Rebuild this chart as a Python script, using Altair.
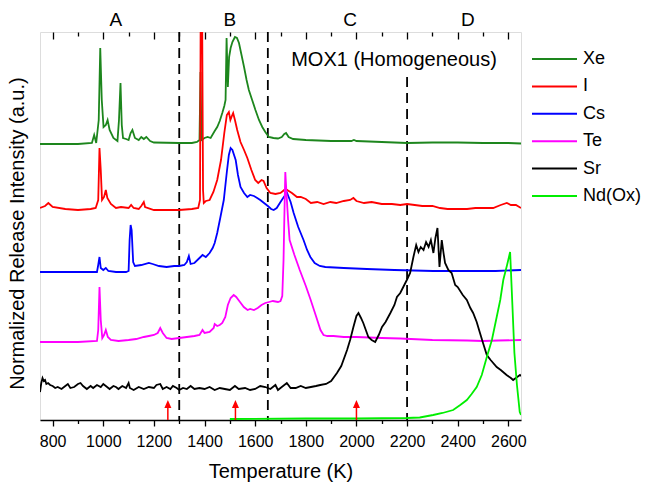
import altair as alt
import pandas as pd

FONT = "Liberation Sans, Arial, sans-serif"

series_names = ["Xe", "I", "Cs", "Te", "Sr", "Nd(Ox)"]
series_colors = ["#1d861d", "#ff0000", "#0000ff", "#ff00ff", "#000000", "#00ee00"]

# Temperature (K) and release intensity (a.u., stacked with offsets as plotted)
xe_T = [750, 900, 955, 964, 972, 982, 988, 994, 1001, 1010, 1017, 1025, 1040, 1056, 1062, 1068, 1073, 1078,
        1090, 1100, 1108, 1115, 1125, 1140, 1150, 1160, 1170, 1185, 1200, 1300, 1350, 1370, 1380, 1384, 1388,
        1400, 1412, 1424, 1440, 1450, 1460, 1470, 1478, 1483, 1487, 1492, 1497, 1503, 1510, 1520, 1528, 1536,
        1546, 1556, 1566, 1575, 1588, 1601, 1615, 1628, 1640, 1654, 1672, 1690, 1705, 1715, 1722, 1732, 1750,
        1800, 1900, 1980, 1990, 2000, 2100, 2200, 2300, 2400, 2500, 2600, 2650]
xe_I = [276, 276, 277, 285, 277, 300, 372, 320, 293, 295, 300, 290, 282, 279, 300, 337, 295, 282,
        281, 280, 287, 290, 282, 280, 283, 281, 283, 279, 277.5, 277, 277, 278, 280, 348, 280,
        282, 283, 282, 289, 293, 299, 307, 314, 320, 382, 333, 363, 372, 378, 383, 382, 377,
        365, 353, 340, 330, 320, 310, 300, 293, 288, 283, 282, 281.5, 283, 286, 287, 283, 281,
        280, 279, 279, 280, 279, 278, 277, 277.5, 277.5, 277, 277, 276.5]

i_T = [750, 770, 783, 800, 850, 900, 950, 970, 980, 985, 990, 995, 1003, 1010, 1016, 1030, 1050, 1070,
       1100, 1110, 1120, 1140, 1150, 1160, 1165, 1200, 1250, 1300, 1350, 1375, 1382, 1385, 1390, 1394, 1397,
       1405, 1420, 1435, 1450, 1465, 1478, 1488, 1496, 1502, 1508, 1513, 1520, 1529, 1542, 1556, 1569, 1585,
       1600, 1612, 1625, 1633, 1645, 1660, 1680, 1700, 1715, 1726, 1745, 1765, 1780, 1800, 1820, 1845, 1870,
       1897, 1920, 1950, 1975, 1988, 2000, 2030, 2060, 2100, 2140, 2173, 2200, 2230, 2260, 2300, 2330, 2360,
       2400, 2437, 2470, 2500, 2540, 2570, 2594, 2610, 2630, 2650]
i_I = [212, 214, 217, 213, 211, 210, 211, 212, 220, 272, 250, 220, 223, 230, 222, 216, 212, 213,
       212, 215, 212, 211, 214, 218, 213, 210, 210, 210, 211, 212, 220, 430, 430, 230, 217,
       219, 220, 228, 240, 260, 287, 305, 308, 300, 304, 307, 300, 290, 278, 270, 262, 250,
       240, 237, 240, 239, 232, 227, 226, 227, 230, 230, 227, 223, 223, 221, 217, 218, 216,
       218, 217, 219, 220, 222, 219, 217, 218, 216, 216, 215, 216, 215, 214, 214, 212, 211,
       211, 211, 212, 212, 212, 215, 217, 215, 215, 212]

cs_T = [750, 900, 975, 980, 985, 990, 1000, 1010, 1020, 1050, 1090, 1100, 1104, 1108, 1112, 1118, 1125, 1150,
        1180, 1195, 1220, 1250, 1280, 1300, 1320, 1330, 1338, 1345, 1360, 1380, 1392, 1405, 1420, 1432, 1440,
        1450, 1462, 1476, 1488, 1496, 1503, 1510, 1523, 1532, 1542, 1556, 1569, 1580, 1595, 1608, 1620, 1635,
        1650, 1663, 1673, 1685, 1700, 1713, 1726, 1740, 1752, 1770, 1791, 1805, 1818, 1835, 1855, 1877, 1950,
        2041, 2150, 2303, 2450, 2550, 2650]
cs_I = [148, 148, 148, 155, 163, 152, 150, 152, 149, 148, 148, 149, 180, 195, 190, 158, 154, 155,
        157, 156, 154, 153, 154, 154, 155, 158, 164, 156, 157, 162, 165, 163, 167, 172, 177,
        187, 202, 220, 248, 265, 272, 270, 260, 245, 233, 227, 223, 225, 224, 222, 220, 217,
        214, 211, 210, 212, 218, 223, 227, 218, 207, 193, 180, 170, 163, 157, 154, 153, 152,
        151, 150, 149, 149, 149, 150]

te_T = [750, 800, 900, 975, 980, 985, 990, 996, 1003, 1010, 1018, 1030, 1060, 1100, 1130, 1160, 1180, 1200,
        1215, 1225, 1235, 1250, 1270, 1300, 1330, 1360, 1380, 1392, 1400, 1420, 1436, 1440, 1450, 1460, 1470,
        1482, 1492, 1503, 1515, 1525, 1540, 1555, 1570, 1580, 1595, 1610, 1625, 1640, 1655, 1670, 1690, 1700,
        1707, 1712, 1715, 1719, 1724, 1730, 1736, 1755, 1776, 1800, 1818, 1840, 1858, 1870, 1885, 1909, 1950,
        2000, 2100, 2173, 2300, 2437, 2500, 2560, 2650]
te_I = [78, 78, 78, 79, 90, 133, 100, 82, 85, 90, 83, 80, 79, 80, 81, 83, 84, 85,
        87, 92, 87, 82, 81, 82, 83, 84, 85, 90, 87, 88, 92, 96, 94, 95, 97,
        103, 115, 122, 125, 123, 118, 113, 110, 111, 110, 112, 115, 117, 118, 119, 118, 119,
        124, 160, 200, 248, 225, 200, 180, 165, 150, 134, 121, 104, 90, 85, 84, 84, 83,
        83, 82, 81.5, 80, 79.5, 79, 79.5, 80]

sr_T = [750, 755, 760, 765, 770, 775, 782, 790, 800, 810, 820, 835, 850, 860, 870, 885, 900, 910, 920, 935,
        950, 960, 975, 990, 1000, 1010, 1025, 1040, 1050, 1060, 1075, 1090, 1100, 1105, 1120, 1140, 1160,
        1180, 1200, 1210, 1225, 1235, 1250, 1265, 1275, 1290, 1300, 1315, 1330, 1345, 1360, 1380, 1400, 1420,
        1440, 1460, 1480, 1500, 1520, 1535, 1560, 1580, 1600, 1620, 1640, 1660, 1680, 1690, 1700, 1725, 1740,
        1760, 1780, 1800, 1820, 1840, 1857, 1880, 1900, 1923, 1940, 1963, 1975, 1988, 2000, 2008, 2018, 2027,
        2037, 2047, 2060, 2074, 2088, 2101, 2115, 2134, 2150, 2160, 2173, 2185, 2199, 2212, 2225, 2236, 2245,
        2254, 2265, 2275, 2285, 2294, 2304, 2312, 2320, 2328, 2337, 2344, 2350, 2363, 2376, 2390, 2400, 2420,
        2436, 2450, 2461, 2475, 2488, 2500, 2515, 2530, 2554, 2570, 2593, 2610, 2619, 2635, 2646, 2650]
sr_I = [28, 37, 42, 39, 40, 36, 37, 35, 34, 32, 33, 31, 34, 36, 32, 33, 36, 37, 34, 31,
        34, 32, 35, 33, 36, 34, 31, 34, 33, 31, 34, 32, 37, 32, 30, 33, 31,
        33, 32, 35, 36, 31, 33, 31, 34, 32, 30, 32, 31, 34, 31, 32, 31, 33,
        30, 32, 31, 30, 34, 31, 32, 30, 31, 34, 33, 31, 35, 30, 32, 37, 32,
        32, 34, 32, 33, 34, 35, 36, 39, 47, 54, 70, 80, 93, 104, 107, 102, 97,
        90, 83, 80, 78, 85, 93, 98, 107, 115, 123, 127, 133, 140, 147, 163, 175, 168,
        173, 170, 178, 173, 180, 167, 182, 192, 153, 180, 167, 157, 150, 147, 135, 133, 125,
        120, 112, 107, 98, 87, 77, 65, 60, 53, 50, 45, 42, 40, 43, 45, 44]

nd_T = [1500, 1800, 2000, 2200, 2250, 2303, 2340, 2382, 2410, 2436, 2455, 2475, 2495, 2515, 2535, 2554,
        2568, 2580, 2595, 2607, 2616, 2624, 2634, 2645, 2650]
nd_I = [1, 1.5, 1.5, 2, 2.5, 5, 7, 10, 15, 20, 26, 33, 45, 63, 80, 103,
        120, 140, 155, 168, 115, 67, 35, 8, 5]

major_ticks = [800, 1000, 1200, 1400, 1600, 1800, 2000, 2200, 2400, 2600]
minor_ticks = [900, 1100, 1300, 1500, 1700, 1900, 2100, 2300, 2500]

region_labels = ["A", "B", "C", "D"]
region_T = [1050, 1500, 1975, 2440]

divider_T = [1300, 1650, 2200]
divider_top = [388, 388, 343]

arrow_T = [1255, 1522, 2000]

rows = []
for name, Ts, Is in zip(series_names, [xe_T, i_T, cs_T, te_T, sr_T, nd_T],
                        [xe_I, i_I, cs_I, te_I, sr_I, nd_I]):
    for t, v in zip(Ts, Is):
        rows.append({"series": name, "T": t, "I": v})
df = pd.DataFrame(rows)

xscale = alt.Scale(domain=[750, 2650], nice=False, zero=False)
yscale = alt.Scale(domain=[0, 388], nice=False, zero=False)

y_axis = alt.Axis(
    title="Normalized Release Intensity (a.u.)", ticks=False, labels=False, domain=False,
    grid=False, titleFont=FONT, titleFontSize=20, titleFontWeight="normal", titleColor="black",
    titleAngle=-90, titleX=-23, titleY=201, titleAlign="center", titleBaseline="middle")

lines = alt.Chart(df).mark_line(strokeWidth=1.8, clip=True).encode(
    x=alt.X("T:Q", scale=xscale, axis=alt.Axis(
        values=major_ticks, format="d", orient="bottom", tickSize=6, tickWidth=1.3, tickColor="black",
        domain=True, domainColor="black", domainWidth=1.3, labelFlush=False,
        labelFontSize=16, labelFont=FONT, labelColor="black", labelPadding=7,
        title="Temperature (K)", titleFont=FONT, titleFontSize=20, titleFontWeight="normal",
        titleColor="black", titleBaseline="alphabetic", titleY=57, grid=False)),
    y=alt.Y("I:Q", scale=yscale, axis=y_axis),
    color=alt.Color("series:N", scale=alt.Scale(domain=series_names, range=series_colors),
                    legend=alt.Legend(title=None, orient="none", legendX=491, legendY=16,
                                      symbolType="stroke", symbolSize=2025, symbolStrokeWidth=2,
                                      labelFont=FONT, labelFontSize=18, labelColor="black",
                                      labelOffset=5, clipHeight=22, rowPadding=5.4, padding=0,
                                      symbolOffset=0)),
)

minor_df = pd.DataFrame({"T": minor_ticks})
major_df = pd.DataFrame({"T": major_ticks})

minor_bottom = alt.Chart(minor_df).mark_point(opacity=0).encode(
    x=alt.X("T:Q", scale=xscale, axis=alt.Axis(
        values=minor_ticks, orient="bottom", tickSize=3.5, tickWidth=1.3, tickColor="black",
        labels=False, domain=False, title=None, grid=False)))
major_top = alt.Chart(major_df).mark_point(opacity=0).encode(
    x=alt.X("T:Q", scale=xscale, axis=alt.Axis(
        values=major_ticks, orient="top", offset=-7, tickSize=7, tickWidth=1.3, tickColor="black",
        labels=False, domain=False, title=None, grid=False)))
minor_top = alt.Chart(minor_df).mark_point(opacity=0).encode(
    x=alt.X("T:Q", scale=xscale, axis=alt.Axis(
        values=minor_ticks, orient="top", offset=-4, tickSize=4, tickWidth=1.3, tickColor="black",
        labels=False, domain=False, title=None, grid=False)))

div_df = pd.DataFrame({"T": divider_T, "top": divider_top, "bottom": [0, 0, 0]})
dividers = alt.Chart(div_df).mark_rule(color="black", strokeWidth=1.8, strokeDash=[10, 6]).encode(
    x=alt.X("T:Q", scale=xscale, axis=None),
    y=alt.Y("top:Q", scale=yscale, axis=y_axis),
    y2="bottom:Q")

reg_df = pd.DataFrame({"T": region_T, "label": region_labels})
regions = alt.Chart(reg_df).mark_text(font=FONT, fontSize=19, color="black", baseline="middle",
                                       align="center").encode(
    x=alt.X("T:Q", scale=xscale, axis=None), y=alt.value(-12), text="label:N")

title_df = pd.DataFrame({"label": ["MOX1 (Homogeneous)"]})
mox = alt.Chart(title_df).mark_text(font=FONT, fontSize=20, color="black", baseline="middle",
                                     align="center").encode(
    x=alt.value(354), y=alt.value(28), text="label:N")

arr_df = pd.DataFrame({"T": arrow_T})
arrow_shaft = alt.Chart(arr_df).mark_rule(color="#ff0000", strokeWidth=1.5).encode(
    x=alt.X("T:Q", scale=xscale, axis=None), y=alt.value(388), y2=alt.value(375))
arrow_head = alt.Chart(arr_df).mark_point(shape="M-3.5,4L3.5,4L0,-4Z", size=4, filled=True,
                                          color="#ff0000", opacity=1).encode(
    x=alt.X("T:Q", scale=xscale, axis=None), y=alt.value(372))

chart = alt.layer(
    dividers, lines, minor_bottom, major_top, minor_top, regions, mox, arrow_shaft, arrow_head
).resolve_axis(x="independent").properties(
    width=481, height=388,
    autosize=alt.AutoSizeParams(type="none"),
    padding={"left": 40, "top": 32, "right": 127, "bottom": 64},
).configure_view(stroke="black", strokeWidth=1.3).configure(font=FONT, background="white")

chart.save("out.html", embed_options={"renderer": "svg", "actions": False})
